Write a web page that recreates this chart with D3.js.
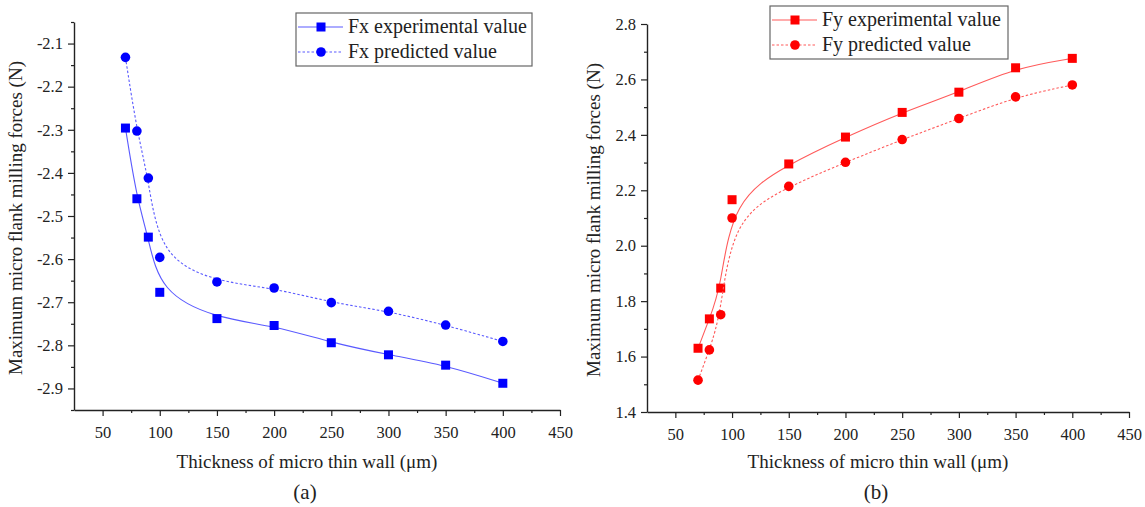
<!DOCTYPE html>
<html>
<head>
<meta charset="utf-8">
<script src="https://cdn.jsdelivr.net/npm/d3@7"></script>
<style>
  body { margin: 0; background: #fff; }
  svg text { font-family: "Liberation Serif", "Times New Roman", serif; fill: #222; }
</style>
</head>
<body>
<svg id="chart" width="1145" height="507"></svg>
<script>
const thickness = [70, 80, 90, 100, 150, 200, 250, 300, 350, 400];
const xTicks = [50, 100, 150, 200, 250, 300, 350, 400, 450];

const fxExperimental = [-2.296, -2.46, -2.549, -2.677, -2.738, -2.754, -2.794, -2.822, -2.846, -2.888];
const fxPredicted = [-2.132, -2.303, -2.412, -2.596, -2.653, -2.667, -2.701, -2.721, -2.753, -2.791];
const fxTicks = [-2.9, -2.8, -2.7, -2.6, -2.5, -2.4, -2.3, -2.2, -2.1];

const fyExperimental = [1.630, 1.736, 1.847, 2.166, 2.295, 2.392, 2.481, 2.554, 2.642, 2.676];
const fyPredicted = [1.515, 1.624, 1.751, 2.100, 2.214, 2.301, 2.383, 2.459, 2.537, 2.580];
const fyTicks = [1.4, 1.6, 1.8, 2.0, 2.2, 2.4, 2.6, 2.8];

const xTitle = 'Thickness of micro thin wall (\u03bcm)';
const yTitle = 'Maximum micro flank milling forces (N)';
const serif = '"Liberation Serif", "Times New Roman", serif';

const svg = d3.select('#chart');
// plain hyphen for negatives, like the original
const fmt = (d) => d3.format('.1f')(d).replace('\u2212', '-');

function drawPanel(cfg) {
  const g = svg.append('g');
  const x = d3.scaleLinear().domain([25, 450]).range([cfg.left, cfg.right]);
  const y = d3.scaleLinear().domain(cfg.yDomain).range([cfg.bottom, cfg.top]);

  // minor ticks
  g.append('g').attr('transform', `translate(0,${cfg.bottom})`)
    .call(d3.axisBottom(x).tickValues(d3.range(75, 451, 50)).tickSize(3).tickFormat(''))
    .call((a) => a.select('.domain').remove());
  g.append('g').attr('transform', `translate(${cfg.left},0)`)
    .call(d3.axisLeft(y).tickValues(cfg.yMinor).tickSize(3).tickFormat(''))
    .call((a) => a.select('.domain').remove());

  g.append('g').attr('transform', `translate(0,${cfg.bottom})`)
    .call(d3.axisBottom(x).tickValues(xTicks).tickSize(6).tickSizeOuter(0).tickPadding(10));
  g.append('g').attr('transform', `translate(${cfg.left},0)`)
    .call(d3.axisLeft(y).tickValues(cfg.yTicks).tickSize(6).tickSizeOuter(0).tickPadding(5).tickFormat(fmt));

  g.selectAll('g').attr('font-family', serif);
  g.selectAll('.tick line').attr('stroke', '#222').attr('stroke-width', 1.2);
  g.selectAll('.domain').attr('stroke', '#222').attr('stroke-width', 1.4);
  g.selectAll('.tick text').style('font-size', '16.5px').style('font-family', serif).attr('fill', '#222');

  g.append('text').attr('x', (cfg.left + cfg.right) / 2 - 10).attr('y', 468)
    .attr('text-anchor', 'middle').style('font-size', '19px').text(xTitle);
  g.append('text').attr('x', (cfg.left + cfg.right) / 2 - 12).attr('y', 499)
    .attr('text-anchor', 'middle').style('font-size', '21px').text(cfg.label);
  g.append('text')
    .attr('transform', `translate(${cfg.left - cfg.titleOff},${(cfg.top + cfg.bottom) / 2 + 2}) rotate(-90)`)
    .attr('text-anchor', 'middle').style('font-size', '19px').text(yTitle);

  const series = [
    { name: cfg.names[0], values: cfg.exp, shape: 'square', dash: null },
    { name: cfg.names[1], values: cfg.pred, shape: 'circle', dash: '2.5,2' }
  ];

  const line = d3.line().x((d) => x(d[0])).y((d) => y(d[1])).curve(d3.curveBasis);

  series.forEach((s) => {
    const pts = thickness.map((t, i) => [t, s.values[i]]);
    g.append('path').datum(pts).attr('d', line)
      .attr('fill', 'none').attr('stroke', cfg.lineColor).attr('stroke-width', 1.1)
      .attr('stroke-dasharray', s.dash);
    drawMarkers(g, pts.map((p) => [x(p[0]), y(p[1])]), s.shape, cfg.markColor);
  });

  // legend
  const lg = g.append('g').attr('transform', `translate(${cfg.legend[0]},${cfg.legend[1]})`);
  lg.append('rect').attr('width', cfg.legendW).attr('height', 53)
    .attr('fill', '#fff').attr('stroke', '#666').attr('stroke-width', 1.2);
  series.forEach((s, i) => {
    const ly = 14 + i * 25;
    lg.append('line').attr('x1', 2).attr('x2', 47).attr('y1', ly).attr('y2', ly)
      .attr('stroke', cfg.lineColor).attr('stroke-width', 1.1).attr('stroke-dasharray', s.dash);
    drawMarkers(lg, [[25, ly]], s.shape, cfg.markColor);
    lg.append('text').attr('x', 52).attr('y', ly + 6).style('font-size', '20px').text(s.name);
  });
}

function drawMarkers(sel, pts, shape, color) {
  if (shape === 'square') {
    sel.selectAll(null).data(pts).join('rect')
      .attr('x', (d) => d[0] - 4.5).attr('y', (d) => d[1] - 4.5)
      .attr('width', 9).attr('height', 9).attr('fill', color);
  } else {
    sel.selectAll(null).data(pts).join('circle')
      .attr('cx', (d) => d[0]).attr('cy', (d) => d[1]).attr('r', 4.8).attr('fill', color);
  }
}

drawPanel({
  left: 74, right: 560, top: 22, bottom: 410,
  yDomain: [-2.95, -2.05], yTicks: fxTicks, yMinor: d3.range(-2.95, -2.04, 0.1),
  exp: fxExperimental, pred: fxPredicted,
  names: ['Fx experimental value', 'Fx predicted value'],
  lineColor: '#5a5aff', markColor: '#0000ff',
  legend: [296, 13], legendW: 236, label: '(a)', titleOff: 52
});

drawPanel({
  left: 647, right: 1129, top: 24, bottom: 412,
  yDomain: [1.4, 2.8], yTicks: fyTicks, yMinor: d3.range(1.5, 2.8, 0.2),
  exp: fyExperimental, pred: fyPredicted,
  names: ['Fy experimental value', 'Fy predicted value'],
  lineColor: '#ff5a5a', markColor: '#ff0000',
  legend: [770, 6], legendW: 238, label: '(b)', titleOff: 47
});
</script>
</body>
</html>
